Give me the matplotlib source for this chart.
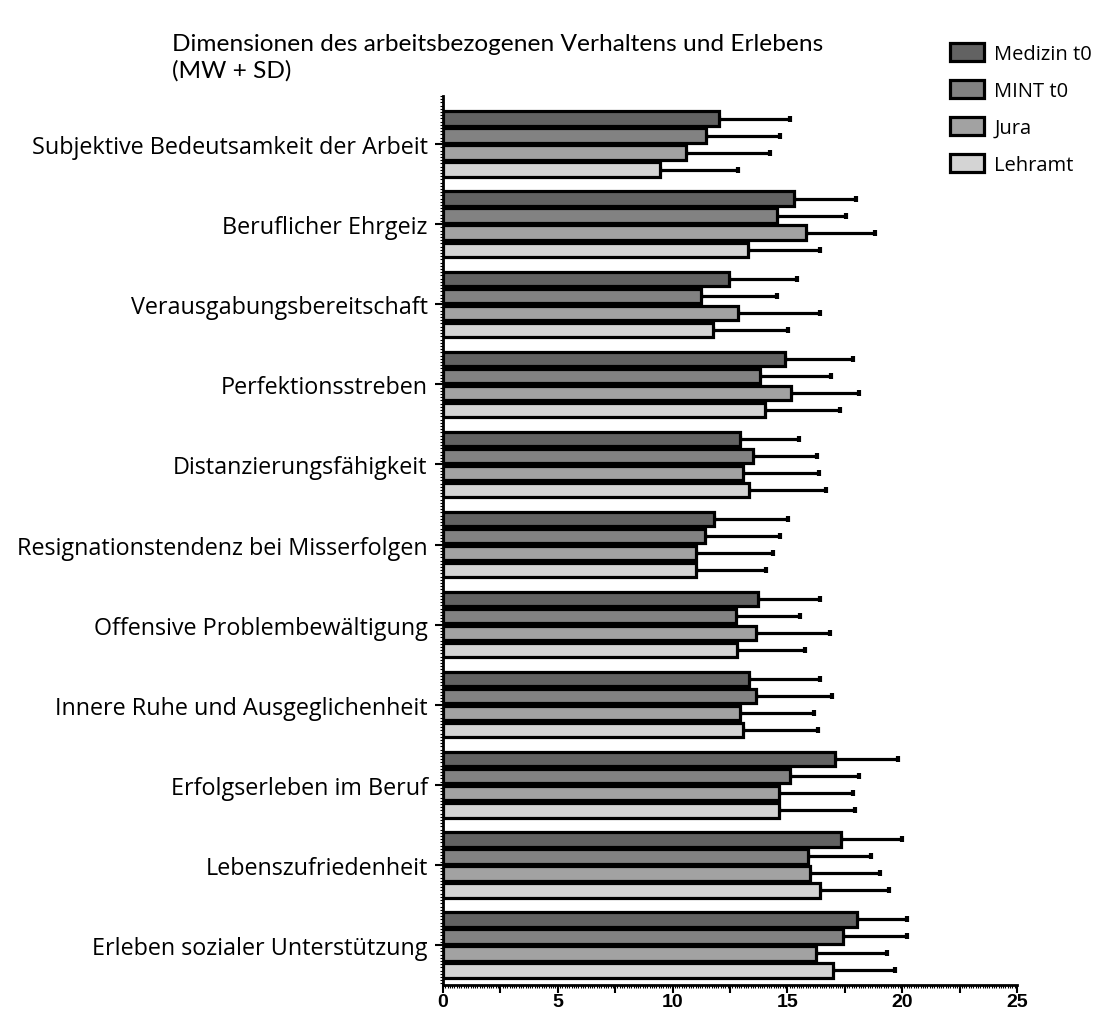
import matplotlib
matplotlib.use("Agg")
import matplotlib.pyplot as plt
from matplotlib.ticker import MultipleLocator
import numpy as np

categories = [
    "Subjektive Bedeutsamkeit der Arbeit",
    "Beruflicher Ehrgeiz",
    "Verausgabungsbereitschaft",
    "Perfektionsstreben",
    "Distanzierungsfähigkeit",
    "Resignationstendenz bei Misserfolgen",
    "Offensive Problembewältigung",
    "Innere Ruhe und Ausgeglichenheit",
    "Erfolgserleben im Beruf",
    "Lebenszufriedenheit",
    "Erleben sozialer Unterstützung",
]
groups = ["Medizin t0", "MINT t0", "Jura", "Lehramt"]

mw_medizin = [12.03, 15.31, 12.44, 14.88, 12.93, 11.80, 13.70, 13.33, 17.06, 17.35, 18.04]
sd_medizin = [3.07, 2.70, 2.98, 3.00, 2.57, 3.21, 2.74, 3.11, 2.75, 2.66, 2.18]
mw_mint = [11.46, 14.57, 11.23, 13.79, 13.51, 11.43, 12.77, 13.62, 15.13, 15.91, 17.42]
sd_mint = [3.23, 2.98, 3.34, 3.11, 2.77, 3.26, 2.78, 3.31, 3.00, 2.74, 2.80]
mw_jura = [10.59, 15.83, 12.85, 15.18, 13.08, 11.02, 13.65, 12.92, 14.65, 16.00, 16.24]
sd_jura = [3.65, 3.00, 3.59, 2.95, 3.29, 3.34, 3.21, 3.24, 3.23, 3.02, 3.11]
mw_lehramt = [9.45, 13.29, 11.77, 14.03, 13.33, 11.03, 12.80, 13.08, 14.65, 16.40, 16.98]
sd_lehramt = [3.39, 3.15, 3.26, 3.27, 3.35, 3.05, 2.95, 3.24, 3.31, 3.03, 2.70]

means = [mw_medizin, mw_mint, mw_jura, mw_lehramt]
sds = [sd_medizin, sd_mint, sd_jura, sd_lehramt]
colors = ["#626262", "#828282", "#a2a2a2", "#d4d4d4"]

label_font = "Open Sans"

fig = plt.figure(figsize=(11.06, 10.12), dpi=100)
ax = fig.add_axes([0.4005, 0.0257, 0.519, 0.8784])

y = np.arange(len(categories))
pitch = 0.2125
for i, (m, s, c, g) in enumerate(zip(means, sds, colors, groups)):
    pos = y + (i - 1.5) * pitch
    ax.barh(pos, m, height=0.18, color=c, edgecolor="black", linewidth=2.3,
            label=g, zorder=3)
    ax.errorbar(m, pos, xerr=[np.zeros(len(s)), s], fmt="none", ecolor="black",
                elinewidth=2.3, capsize=2.5, capthick=3, zorder=2)

ax.set_xlim(0, 25)
ax.set_ylim(len(categories) - 1 + 0.5, -0.6)
ax.set_yticks(y)
ax.set_yticklabels(categories, family=label_font, fontsize=16.8)
ax.xaxis.set_major_locator(MultipleLocator(2.5))
ax.xaxis.set_minor_locator(MultipleLocator(0.1))
ax.yaxis.set_minor_locator(MultipleLocator(0.04))
ax.set_xticklabels([f"{v:g}" if v % 5 == 0 else "" for v in ax.get_xticks()],
                   fontweight="bold", fontsize=14, family="Liberation Sans")

for side in ["top", "right"]:
    ax.spines[side].set_visible(False)
for side in ["left", "bottom"]:
    ax.spines[side].set_linewidth(2)
ax.tick_params(axis="both", which="major", length=6, width=1.5, direction="out")
ax.tick_params(axis="both", which="minor", length=2, width=0.8, direction="out")
ax.tick_params(axis="y", which="major", pad=5)
ax.tick_params(axis="x", which="major", pad=0)

fig.text(0.1555, 0.943, "Dimensionen des arbeitsbezogenen Verhaltens und Erlebens\n(MW + SD)",
         family="Lato", fontsize=17.6, ha="left", va="center", linespacing=1.3)

ax.legend(loc="upper left", bbox_to_anchor=(0.852, 1.08), frameon=False,
          prop={"family": label_font, "size": 14.5}, handlelength=1.7,
          handleheight=1.0, labelspacing=0.8, handletextpad=0.5)

fig.savefig("out.png", dpi=100)
